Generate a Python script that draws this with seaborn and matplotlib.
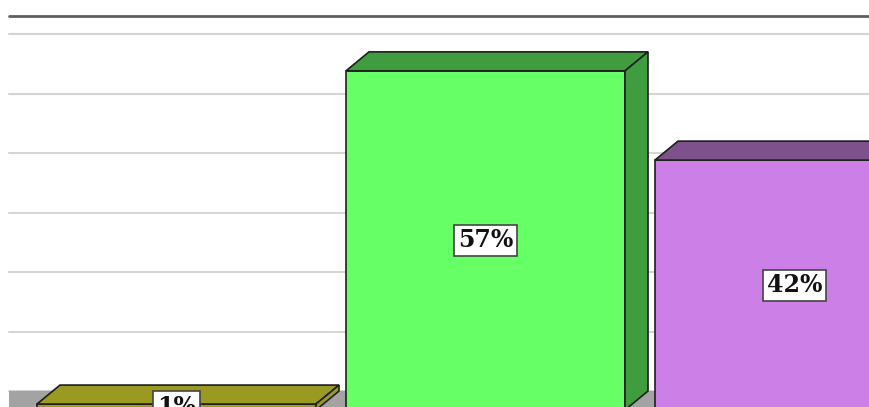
import pandas as pd
import seaborn as sns
import matplotlib.pyplot as plt
from matplotlib.patches import Polygon

# values (percent)
groups = ["Group 1", "Group 2", "Group 3"]
shares = [1, 57, 42]
front_colors = ["#9c9c22", "#66ff66", "#cc7fe6"]
shade_colors = ["#9a9a20", "#3f9c3f", "#7e508c"]
grid_levels = [0, 10, 20, 30, 40, 50, 60]

df = pd.DataFrame({"group": groups, "share": shares})

sns.set_style("white")

fig = plt.figure(figsize=(8.69, 4.07), dpi=100)
ax = fig.add_axes([0, 0, 1, 1])

bar_w = 0.903
dx = 0.0744   # depth of the 3d effect, x units
dy = 3.19     # depth of the 3d effect, percent units

sns.barplot(data=df, x="group", y="share", hue="group", palette=front_colors,
            saturation=1, width=bar_w, edgecolor="#1e1e1e", linewidth=1.2,
            legend=False, ax=ax, zorder=3)

x_left = -0.542
x_right = 2.3

# back wall gridlines + top border
for g in grid_levels:
    ax.plot([x_left, x_right], [g + dy, g + dy], color="#d6d6d6", lw=1.5, zorder=1)
ax.plot([x_left, x_right], [66.3, 66.3], color="#5e5e5e", lw=2, zorder=1)

# floor
ax.add_patch(Polygon([(x_left, dy), (x_right, dy), (x_right, 0), (x_left, 0)],
                     closed=True, fc="#a3a3a3", ec="none", zorder=2))

# top and side faces
for i, v in enumerate(shares):
    x0, x1 = i - bar_w / 2, i + bar_w / 2
    top = [(x0, v), (x1, v), (x1 + dx, v + dy), (x0 + dx, v + dy)]
    side = [(x1, 0), (x1, v), (x1 + dx, v + dy), (x1 + dx, dy)]
    for pts in (top, side):
        ax.add_patch(Polygon(pts, closed=True, fc=shade_colors[i], ec="#1e1e1e",
                             lw=1.2, zorder=3))
    ax.text(i, v / 2, f"{v}%", ha="center", va="center", family="DejaVu Serif",
            weight="bold", fontsize=17, color="#111111", zorder=5,
            bbox=dict(boxstyle="square,pad=0.15", fc="white", ec="#444444", lw=1.2))

ax.set_xlim(-0.5712, 2.2411)
ax.set_ylim(0.504, 68.91)
ax.axis("off")

plt.savefig("out.png", dpi=100)
